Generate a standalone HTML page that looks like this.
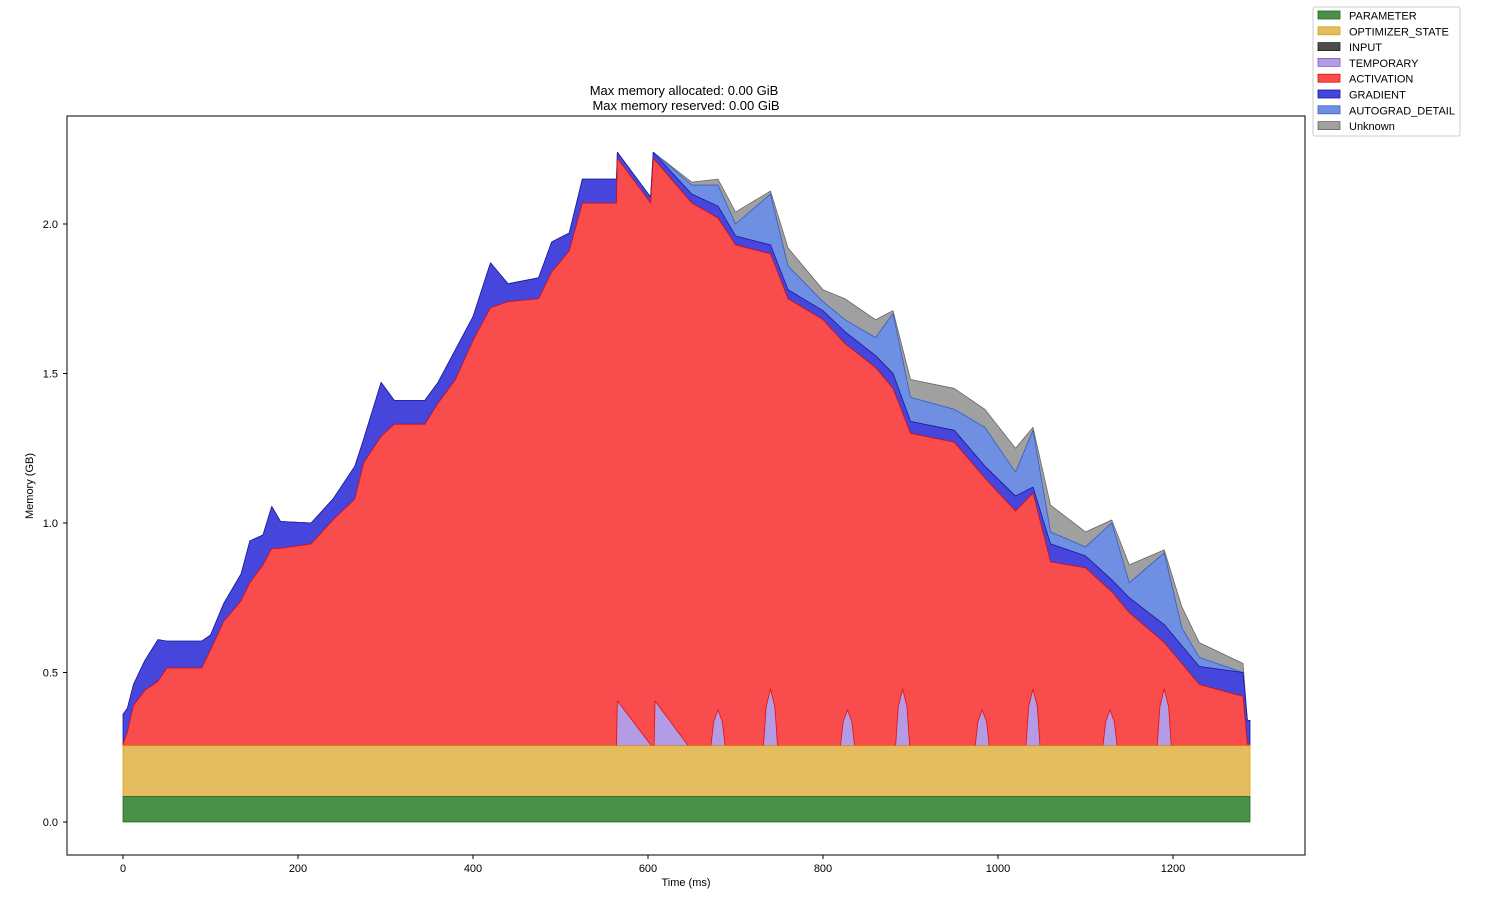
<!DOCTYPE html>
<html><head><meta charset="utf-8"><style>
body{margin:0;background:#fff;font-family:"Liberation Sans",sans-serif;}
svg text{font-family:"Liberation Sans",sans-serif;}
</style></head><body>
<svg id="c" width="1499" height="913" xmlns="http://www.w3.org/2000/svg">
<text x="684" y="95" font-size="13" text-anchor="middle">Max memory allocated: 0.00 GiB</text>
<text x="686" y="110" font-size="13" text-anchor="middle">Max memory reserved: 0.00 GiB</text>
<g id="plot"></g>
<rect x="67" y="116" width="1238" height="739" fill="none" stroke="#000" stroke-width="1"/>
<g id="axes"></g>
<text x="686" y="886" font-size="11" text-anchor="middle">Time (ms)</text>
<text x="33" y="486" font-size="11" text-anchor="middle" transform="rotate(-90 33 486)">Memory (GB)</text>
<g id="legend"></g>
</svg>
<script>
const times    = [0,5,12,25,40,50,90,100,115,135,145,160,170,180,215,240,265,275,295,310,345,360,380,400,420,440,475,490,510,525,564,565,603,606,650,680,700,740,760,800,825,860,880,900,950,985,1020,1040,1060,1100,1130,1150,1190,1210,1230,1280,1285,1288];
const paramVals = 0.085;
const optimVals = 0.17;
const activationTop = [.26,.30,.39,.44,.47,.515,.515,.575,.67,.74,.80,.86,.915,.915,.93,1.01,1.08,1.2,1.29,1.33,1.33,1.40,1.48,1.61,1.72,1.74,1.75,1.84,1.91,2.07,2.07,2.22,2.07,2.22,2.07,2.02,1.93,1.90,1.75,1.68,1.60,1.52,1.45,1.30,1.27,1.15,1.04,1.10,.87,.85,.77,.70,.60,.53,.46,.42,.26,.26];
const gradientVals = [.10,.08,.07,.10,.14,.09,.09,.05,.06,.09,.14,.10,.14,.09,.07,.07,.11,.08,.18,.08,.08,.07,.10,.08,.15,.06,.07,.10,.06,.08,.08,.02,.02,.02,.03,.04,.03,.03,.03,.03,.04,.04,.05,.04,.04,.04,.05,.02,.06,.04,.04,.05,.06,.06,.06,.08,.08,.08];
const autogradVals = [0,0,0,0,0,0,0,0,0,0,0,0,0,0,0,0,0,0,0,0,0,0,0,0,0,0,0,0,0,0,0,0,0,0,.03,.07,.04,.17,.08,.03,.04,.06,.20,.08,.07,.13,.08,.19,.04,.03,.19,.05,.24,.06,.03,0,0,0];
const unknownVals = [0,0,0,0,0,0,0,0,0,0,0,0,0,0,0,0,0,0,0,0,0,0,0,0,0,0,0,0,0,0,0,0,0,0,.01,.02,.04,.01,.06,.04,.07,.06,.01,.06,.07,.06,.08,.01,.09,.05,.01,.06,.01,.07,.05,.03,0,0];
const tempTimes = [564,565,604,607,608,646,672,675,680,685,688,732,735,740,745,748,820,823,828,833,836,883,886,891,896,899,974,977,982,987,990,1032,1035,1040,1045,1048,1120,1123,1128,1133,1136,1182,1185,1190,1195,1198];
const tempVals  = [0,.15,0,0,.15,0,0,.08,.12,.08,0,0,.13,.19,.13,0,0,.08,.12,.08,0,0,.13,.19,.13,0,0,.08,.12,.08,0,0,.13,.19,.13,0,0,.08,.12,.08,0,0,.13,.19,.13,0];
const xTicks = [0,200,400,600,800,1000,1200];
const yTicks = [0.0,0.5,1.0,1.5,2.0];
const legendNames = ["PARAMETER","OPTIMIZER_STATE","INPUT","TEMPORARY","ACTIVATION","GRADIENT","AUTOGRAD_DETAIL","Unknown"];
const legendColors = ["#4a904a","#e6bd5e","#4c4c4c","#b39ce5","#f94c4c","#4646dd","#6f8fe3","#a0a0a0"];
const legendEdges = ["#1f6b1f","#d4a017","#222","#7b5cc9","#e01010","#1a1aa0","#3a5fc8","#666"];

const NS="http://www.w3.org/2000/svg";
const X=t=>123+t*0.875, Y=v=>822-v*299;
const plot=document.getElementById('plot'), axes=document.getElementById('axes');
function area(ts,lo,hi,fill,edge,name){
  let d='M'+ts.map((t,i)=>X(t)+','+Y(hi[i])).join('L');
  for(let i=ts.length-1;i>=0;i--) d+='L'+X(ts[i])+','+Y(lo[i]);
  d+='Z';
  const p=document.createElementNS(NS,'path');
  p.setAttribute('d',d);p.setAttribute('fill',fill);p.setAttribute('stroke',edge);p.setAttribute('stroke-width','0.8');p.setAttribute('stroke-linejoin','round');
  
  
  plot.appendChild(p);
}
const base=times.map(()=>0), pTop=times.map(()=>paramVals), oTop=times.map(()=>paramVals+optimVals);
const gTop=activationTop.map((v,i)=>v+gradientVals[i]);
const aTop=gTop.map((v,i)=>v+autogradVals[i]);
const uTop=aTop.map((v,i)=>v+unknownVals[i]);
area(times,aTop,uTop,legendColors[7],legendEdges[7],'unknown-area');
area(times,gTop,aTop,legendColors[6],legendEdges[6],'autograd-detail-area');
area(times,activationTop,gTop,legendColors[5],legendEdges[5],'gradient-area');
area(times,oTop,activationTop,legendColors[4],legendEdges[4],'activation-area');
const tb=tempTimes.map(()=>paramVals+optimVals), tt=tempVals.map(v=>v+paramVals+optimVals);
area(tempTimes,tb,tt,legendColors[3],legendEdges[4],'temporary-area');
area(times,pTop,oTop,legendColors[1],legendEdges[1],'optimizer-state-area');
area(times,base,pTop,legendColors[0],legendEdges[0],'parameter-area');

xTicks.forEach(t=>{
  const l=document.createElementNS(NS,'line');l.setAttribute('x1',X(t));l.setAttribute('x2',X(t));l.setAttribute('y1',855);l.setAttribute('y2',859);l.setAttribute('stroke','#000');
  
  
  axes.appendChild(l);
  const s=document.createElementNS(NS,'text');s.setAttribute('x',X(t));s.setAttribute('y',872);s.setAttribute('font-size','11');s.setAttribute('text-anchor','middle');s.textContent=t;
  
  
  axes.appendChild(s);
});
yTicks.forEach(v=>{
  const l=document.createElementNS(NS,'line');l.setAttribute('x1',63);l.setAttribute('x2',67);l.setAttribute('y1',Y(v));l.setAttribute('y2',Y(v));l.setAttribute('stroke','#000');
  
  
  axes.appendChild(l);
  const s=document.createElementNS(NS,'text');s.setAttribute('x',58);s.setAttribute('y',Y(v)+4);s.setAttribute('font-size','11');s.setAttribute('text-anchor','end');s.textContent=v.toFixed(1);
  
  
  axes.appendChild(s);
});
const lg=document.getElementById('legend');
const box=document.createElementNS(NS,'rect');
box.setAttribute('x',1313);box.setAttribute('y',7);box.setAttribute('width',147);box.setAttribute('height',129);box.setAttribute('rx',2);box.setAttribute('fill','#fff');box.setAttribute('stroke','#ccc');


lg.appendChild(box);
legendNames.forEach((nm,i)=>{
  const y=15.5+i*15.8;
  const r=document.createElementNS(NS,'rect');r.setAttribute('x',1318);r.setAttribute('y',y-4.5);r.setAttribute('width',22);r.setAttribute('height',8);r.setAttribute('fill',legendColors[i]);r.setAttribute('stroke',legendEdges[i]);r.setAttribute('stroke-width','0.8');
  
  
  lg.appendChild(r);
  const s=document.createElementNS(NS,'text');s.setAttribute('x',1349);s.setAttribute('y',y+4);s.setAttribute('font-size','11');s.textContent=nm;
  
  
  lg.appendChild(s);
});
</script>
</body></html>
